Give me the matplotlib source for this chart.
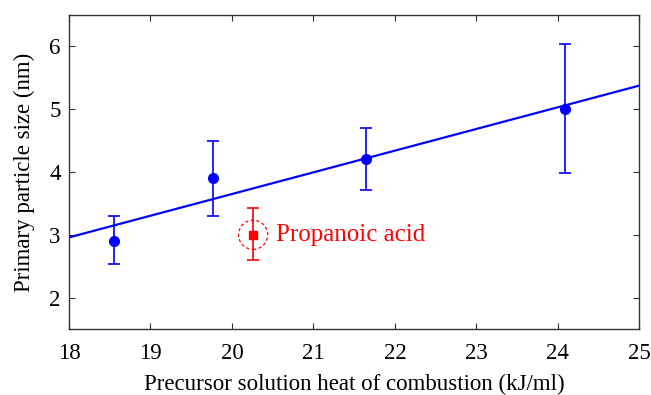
import matplotlib
matplotlib.use('agg')
import matplotlib.pyplot as plt
import numpy as np

# heat of combustion (kJ/ml) vs primary particle size (nm)
heat = [18.55, 19.77, 21.65, 24.09]
size = [2.9, 3.9, 4.2, 5.0]
err_lo = [2.53, 3.30, 3.72, 3.98]
err_hi = [3.30, 4.50, 4.70, 6.04]

# outlier: propanoic acid
prop_heat = [20.26]
prop_size = [3.0]
prop_lo = [2.60]
prop_hi = [3.43]

plt.rcParams['font.family'] = ['Liberation Serif', 'DejaVu Serif']

fig = plt.figure(figsize=(6.51, 3.95), dpi=100)
ax = fig.add_axes([0.106, 0.167, 0.876, 0.795])

# linear fit of the four points
coef = np.polyfit(heat, size, 1)
xf = np.array([18, 25])
ax.plot(xf, np.polyval(coef, xf), color='blue', lw=1.6, zorder=2)

yerr = [np.subtract(size, err_lo), np.subtract(err_hi, size)]
ax.errorbar(heat, size, yerr=yerr, fmt='o', color='blue', ms=7,
            capsize=4.5, elinewidth=1.2, capthick=1.2, zorder=3)

perr = [np.subtract(prop_size, prop_lo), np.subtract(prop_hi, prop_size)]
ax.errorbar(prop_heat, prop_size, yerr=perr, fmt='s', color='red', ms=5.5,
            capsize=4.5, elinewidth=1.2, capthick=1.2, zorder=3)
ax.scatter(prop_heat, prop_size, s=440, facecolors='none', edgecolors='red',
           linewidths=0.9, linestyles=(0, (2.5, 2)), zorder=3)
ax.text(20.54, 3.0, 'Propanoic acid', color='red', fontsize=18,
        va='center', ha='left')

ax.set_xlim(18, 25)
ax.set_ylim(1.5, 6.5)
ax.set_xticks(range(18, 26))
ax.set_yticks([2, 3, 4, 5, 6])
ax.tick_params(direction='in', top=True, right=True, labelsize=16.5,
               length=4, width=0.8, color='#333333')
ax.tick_params(axis='x', pad=10)
ax.tick_params(axis='y', pad=6)
for s in ax.spines.values():
    s.set_color('#333333')
    s.set_linewidth(1.0)

ax.set_xlabel('Precursor solution heat of combustion (kJ/ml)', fontsize=16.5,
              labelpad=7)
ax.set_ylabel('Primary particle size (nm)', fontsize=16.5, labelpad=10)

fig.savefig('out.png', dpi=100)
